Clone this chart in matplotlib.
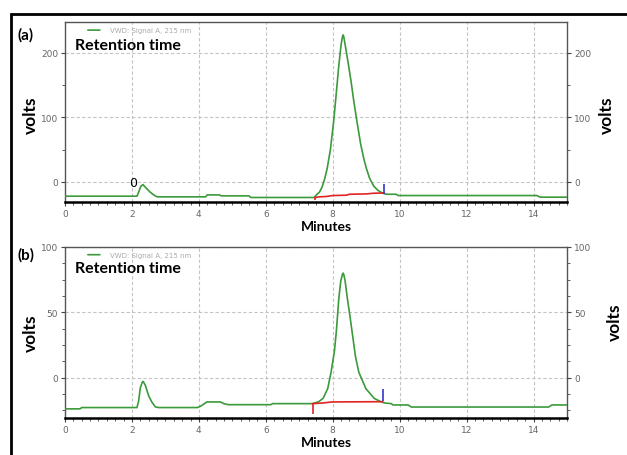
# HPLC chromatograms (a) and (b), VWD signal A at 215 nm
import matplotlib.pyplot as plt
from matplotlib.patches import Rectangle
from matplotlib.ticker import MultipleLocator

# trace (a): minutes / volts
a_time = [0, 2.15, 2.2, 2.26, 2.33, 2.4, 2.54, 2.65, 2.75, 4.2, 4.25, 4.62, 4.66,
          5.5, 5.55, 7.45, 7.51, 7.6, 7.68, 7.76, 7.83, 7.93, 8.03, 8.11, 8.18,
          8.25, 8.29, 8.31, 8.33, 8.37, 8.46, 8.55, 8.63, 8.72, 8.83, 8.92, 9.0,
          9.1, 9.22, 9.35, 9.48, 9.6, 9.9, 9.95, 14.1, 14.2, 15]
a_signal = [-22, -22, -16, -7, -4, -8, -15.5, -20, -23, -23, -20, -20, -21.5,
            -21.5, -24, -24, -20, -16, -8, 5, 20, 50, 95, 140, 180,
            213, 225, 228, 225, 213, 185, 155, 125, 95, 60, 38, 22,
            6, -6, -13, -17, -19, -19, -21, -21, -23.5, -23.5]
a_base_time = [7.48, 7.6, 7.8, 8.0, 8.4, 8.5, 9.0, 9.2, 9.52]
a_base_signal = [-24, -23, -22.5, -21, -20.5, -19, -18.5, -17.5, -17]
a_start = (7.48, -28, -24)     # time, low, high
a_end = (9.52, -18, -3)
a_ylim = (-31, 248)

# trace (b)
b_time = [0, 0.45, 0.5, 2.15, 2.2, 2.25, 2.31, 2.33, 2.35, 2.4, 2.5, 2.6, 2.7,
          2.8, 3.95, 4.05, 4.24, 4.64, 4.75, 4.88, 6.15, 6.2, 7.4, 7.58, 7.71,
          7.85, 7.95, 8.05, 8.11, 8.18, 8.24, 8.29, 8.31, 8.33, 8.37, 8.43, 8.52,
          8.6, 8.68, 8.78, 8.99, 9.24, 9.44, 9.55, 9.75, 9.8, 10.25, 10.35,
          14.45, 14.55, 15]
b_signal = [-24, -24, -23, -23, -18, -8, -3.5, -3, -3.5, -6, -14, -19, -22.5,
            -23, -23, -22, -18.7, -18.7, -20, -20.8, -20.8, -20, -20, -18.5, -16,
            -8.5, 4, 20, 36, 60, 74, 79, 80, 79, 74, 62, 46,
            31, 16, 4, -8.5, -16, -18.5, -19.5, -20, -21, -21, -22.6,
            -22.6, -21, -21]
b_base_time = [7.4, 7.7, 7.98, 9.49]
b_base_signal = [-20, -19.5, -18.7, -18.5]
b_start = (7.4, -28, -20)
b_end = (9.5, -18, -9)
b_ylim = (-31, 100)

xticks = [0, 2, 4, 6, 8, 10, 12, 14]

GREEN = "#3b9a3b"
TICK_GREY = "#666666"

fig = plt.figure(figsize=(6.27, 4.56), dpi=100)

# black frame around the whole picture
fig.patches.append(Rectangle((11 / 627, -0.05), 1.1, 1 - 15 / 456 + 0.05,
                             transform=fig.transFigure, fill=False,
                             edgecolor="black", linewidth=2))


def draw_panel(rect, t, s, bt, bs, start, end, ylim, ymajor, yminor, zero_text):
    ax = fig.add_axes(rect)
    ax.plot(t, s, color=GREEN, lw=1.2, zorder=3)
    ax.plot(bt, bs, color="#e02424", lw=1.2, zorder=4)
    ax.vlines(start[0], start[1], start[2], color="#e02424", lw=1.2, zorder=4)
    ax.vlines(end[0], end[1], end[2], color="#3535d0", lw=1.2, zorder=4)

    ax.set_xlim(0, 15)
    ax.set_ylim(*ylim)
    ax.set_xticks(xticks)
    ax.xaxis.set_minor_locator(MultipleLocator(0.25))
    ax.yaxis.set_major_locator(MultipleLocator(ymajor))
    ax.yaxis.set_minor_locator(MultipleLocator(yminor))
    ax.grid(True, which="major", color="#c4c4c4", ls=(0, (3, 2)), lw=0.8)

    ax.tick_params(which="both", direction="out", labelsize=6.5,
                   labelcolor=TICK_GREY, color="#444444",
                   right=True, labelright=True, pad=2)
    ax.tick_params(which="major", length=3)
    ax.tick_params(which="minor", length=2)

    for side in ["top", "left", "right"]:
        ax.spines[side].set_color("#555555")
        ax.spines[side].set_linewidth(1)
    ax.spines["bottom"].set_linewidth(1.8)
    ax.spines["bottom"].set_color("black")

    ax.set_xlabel("Minutes", fontsize=10, fontweight="bold", family="Lato",
                  labelpad=2)
    ax.xaxis.set_label_coords(0.52, -0.1 if ylim[1] > 150 else -0.105)

    # little legend entry
    ax.annotate("", xy=(0.075, 0.955), xytext=(0.04, 0.955),
                xycoords="axes fraction",
                arrowprops=dict(arrowstyle="-", color=GREEN, lw=1.2))
    ax.text(0.09, 0.955, "VWD: Signal A, 215 nm", transform=ax.transAxes,
            fontsize=5, color="#aaaaaa", va="center")
    ax.text(0.02, 0.875, "Retention time", transform=ax.transAxes,
            fontsize=11.5, fontweight="bold", family="Lato", va="center")
    if zero_text:
        ax.text(2.04, -1.5, "0", fontsize=9, ha="center", va="center")
    return ax


ax_a = draw_panel([65 / 627, 1 - 203 / 456, 502 / 627, 180 / 456],
                  a_time, a_signal, a_base_time, a_base_signal,
                  a_start, a_end, a_ylim, 100, 50, True)
ax_b = draw_panel([65 / 627, 1 - 419 / 456, 502 / 627, 171 / 456],
                  b_time, b_signal, b_base_time, b_base_signal,
                  b_start, b_end, b_ylim, 50, 12.5, False)


# panel tags and side labels in figure pixels
def px_text(x, y, s, **kw):
    fig.text(x / 627, 1 - y / 456, s, family="Lato", fontweight="bold", **kw)


px_text(18, 35, "(a)", fontsize=11, va="center")
px_text(18, 255, "(b)", fontsize=11, va="center")
px_text(31, 115, "volts", fontsize=12.5, rotation=90, ha="center", va="center")
px_text(607, 115, "volts", fontsize=12.5, rotation=90, ha="center", va="center")
px_text(31, 333, "volts", fontsize=12.5, rotation=90, ha="center", va="center")
px_text(615, 322, "volts", fontsize=12.5, rotation=90, ha="center", va="center")

fig.savefig("out.png", dpi=100)
